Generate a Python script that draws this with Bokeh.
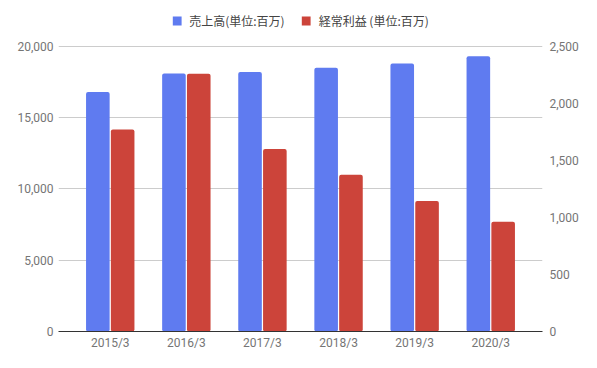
from bokeh.plotting import figure
from bokeh.models import ColumnDataSource, FactorRange, Range1d, LinearAxis, Legend, LegendItem, NumeralTickFormatter, FixedTicker
from bokeh.transform import dodge
from bokeh.embed import file_html
from bokeh.resources import INLINE

years = ["2015/3", "2016/3", "2017/3", "2018/3", "2019/3", "2020/3"]
sales = [16800, 18100, 18200, 18500, 18800, 19300]
ordinary_profit = [1770, 2260, 1600, 1375, 1145, 962]
sales_label = "売上高(単位:百万)"
profit_label = "経常利益 (単位:百万)"
left_ticks = [0, 5000, 10000, 15000, 20000]
right_ticks = [0, 500, 1000, 1500, 2000, 2500]

BLUE = "#5f7bf0"
RED = "#cc443a"
TICK = "#757575"

# frame runs from the very top so the legend can sit above the 20,000 gridline
HEADROOM = 332 / 286.0

src = ColumnDataSource(dict(year=years, sales=sales, profit=ordinary_profit))

p = figure(width=581, height=352, x_range=FactorRange(*years, range_padding=0.06),
           y_range=Range1d(0, left_ticks[-1] * HEADROOM), output_backend="svg", toolbar_location=None,
           min_border_left=58, min_border_right=37, min_border_top=0, min_border_bottom=20)
p.extra_y_ranges = {"right": Range1d(0, right_ticks[-1] * HEADROOM)}

r1 = p.vbar(x=dodge("year", -0.163, range=p.x_range), top="sales", width=0.31, source=src,
            fill_color=BLUE, line_color=None, border_radius=2)
r2 = p.vbar(x=dodge("year", 0.163, range=p.x_range), top="profit", width=0.31, source=src,
            fill_color=RED, line_color=None, y_range_name="right", border_radius=2)

p.outline_line_color = None
p.xgrid.grid_line_color = None
p.ygrid.grid_line_color = "#cccccc"


def style_axis(ax, standoff):
    ax.axis_line_color = None
    ax.major_tick_line_color = None
    ax.minor_tick_line_color = None
    ax.major_tick_out = 0
    ax.major_tick_in = 0
    ax.minor_tick_out = 0
    ax.minor_tick_in = 0
    ax.major_label_standoff = standoff
    ax.major_label_text_color = TICK
    ax.major_label_text_font = "Roboto"
    ax.major_label_text_font_size = "12px"


for ax in p.yaxis:
    ax.ticker = FixedTicker(ticks=left_ticks)
    ax.formatter = NumeralTickFormatter(format="0,0")
    style_axis(ax, 5)

ax_r = LinearAxis(y_range_name="right", formatter=NumeralTickFormatter(format="0,0"),
                  ticker=FixedTicker(ticks=right_ticks))
style_axis(ax_r, 7)
p.add_layout(ax_r, "right")

xa = p.xaxis[0]
style_axis(xa, 4)
xa.axis_line_color = "#333333"
xa.axis_line_width = 1

legend = Legend(items=[LegendItem(label=sales_label, renderers=[r1]),
                       LegendItem(label=profit_label, renderers=[r2])],
                orientation="horizontal", location="top_center", margin=12, padding=4,
                spacing=16, glyph_width=11, glyph_height=11, label_height=13, label_standoff=7,
                label_text_font="Noto Sans CJK JP", label_text_font_size="12px",
                label_text_color="#444444", background_fill_alpha=0, border_line_color=None)
p.add_layout(legend, "center")

open("out.html", "w").write(file_html(p, INLINE))
